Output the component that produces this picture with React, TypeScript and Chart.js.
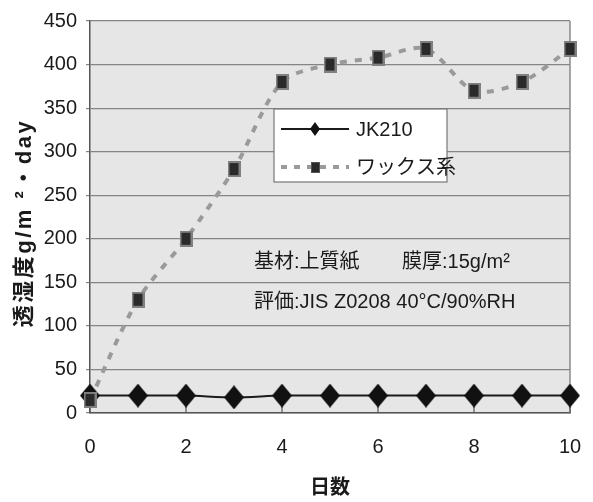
import { useEffect, useRef } from "react";
import { Chart, registerables } from "chart.js";

Chart.register(...registerables);

// ---- data ----
const days = [0, 1, 2, 3, 4, 5, 6, 7, 8, 9, 10];
const jk210 = [20, 20, 20, 18, 20, 20, 20, 20, 20, 20, 20];
const wax = [15, 130, 200, 280, 380, 400, 408, 418, 370, 380, 418];
const xTickValues = [0, 2, 4, 6, 8, 10];
const seriesNames = ["JK210", "ワックス系"];
const yTitle = "透湿度g/m ²・day";
const xTitle = "日数";
const noteSubstrate = "基材:上質紙";
const noteThickness = "膜厚:15g/m²";
const noteEval = "評価:JIS Z0208 40°C/90%RH";

const FONT = '"Liberation Sans", "Noto Sans CJK JP", Arial, sans-serif';
const TEXT = "#1a1a1a";

function makeDiamond(w: number, h: number, color: string) {
  const c = document.createElement("canvas");
  c.width = w;
  c.height = h;
  const g = c.getContext("2d")!;
  g.beginPath();
  g.moveTo(w / 2, 0);
  g.lineTo(w, h / 2);
  g.lineTo(w / 2, h);
  g.lineTo(0, h / 2);
  g.closePath();
  g.fillStyle = color;
  g.fill();
  return c;
}

function makeSquare(w: number, h: number, fill: string, border: string, bw: number) {
  const c = document.createElement("canvas");
  c.width = w;
  c.height = h;
  const g = c.getContext("2d")!;
  g.fillStyle = border;
  g.fillRect(0, 0, w, h);
  g.fillStyle = fill;
  g.fillRect(bw, bw, w - 2 * bw, h - 2 * bw);
  return c;
}

const decorPlugin = {
  id: "decor",
  beforeDraw(chart: any) {
    const { ctx, chartArea: a } = chart;
    ctx.save();
    ctx.fillStyle = "#e6e6e6";
    ctx.fillRect(a.left, a.top, a.right - a.left, a.bottom - a.top);
    ctx.restore();
  },
  beforeDatasetsDraw(chart: any) {
    const { ctx, chartArea: a, scales } = chart;
    ctx.save();
    // right border
    ctx.strokeStyle = "#8a8a8a";
    ctx.lineWidth = 1.5;
    ctx.beginPath();
    ctx.moveTo(a.right, a.top);
    ctx.lineTo(a.right, a.bottom);
    ctx.stroke();
    // inside tick marks on x axis
    ctx.strokeStyle = "#555";
    ctx.lineWidth = 1.2;
    for (const v of xTickValues) {
      const px = scales.x.getPixelForValue(v);
      ctx.beginPath();
      ctx.moveTo(px, a.bottom);
      ctx.lineTo(px, a.bottom - 15);
      ctx.stroke();
    }
    ctx.restore();
  },
  afterDraw(chart: any) {
    const { ctx, chartArea: a } = chart;
    const ds = chart.data.datasets;
    ctx.save();

    // y-axis title
    ctx.save();
    ctx.translate(25, (a.top + a.bottom) / 2 + 6);
    ctx.rotate(-Math.PI / 2);
    ctx.font = `bold 22px ${FONT}`;
    (ctx as any).letterSpacing = "2.5px";
    ctx.fillStyle = TEXT;
    ctx.textAlign = "center";
    ctx.textBaseline = "middle";
    ctx.fillText(yTitle, 0, 0);
    ctx.restore();

    // legend box
    const lx = a.left + 184;
    const ly = a.top + 88;
    const lw = 173;
    const lh = 73;
    ctx.fillStyle = "#ffffff";
    ctx.fillRect(lx, ly, lw, lh);
    ctx.strokeStyle = "#777";
    ctx.lineWidth = 1.2;
    ctx.strokeRect(lx, ly, lw, lh);

    const rows = [ly + 20, ly + 58];
    for (let i = 0; i < 2; i++) {
      const d = ds[i];
      const y = rows[i];
      const x0 = lx + 7;
      const x1 = lx + 75;
      ctx.save();
      ctx.strokeStyle = d.borderColor;
      ctx.lineWidth = i === 0 ? 2 : 4;
      ctx.setLineDash(i === 0 ? [] : [6, 7]);
      ctx.beginPath();
      ctx.moveTo(x0, y);
      ctx.lineTo(x1, y);
      ctx.stroke();
      ctx.restore();
      const mx = (x0 + x1) / 2;
      const img = d.legendMarker as HTMLCanvasElement;
      ctx.drawImage(img, Math.round(mx - img.width / 2), Math.round(y - img.height / 2));
      ctx.font = `20px ${FONT}`;
      ctx.fillStyle = TEXT;
      ctx.textAlign = "left";
      ctx.textBaseline = "middle";
      ctx.fillText(seriesNames[i], lx + 82, y + 1);
    }

    // notes
    ctx.font = `20px ${FONT}`;
    ctx.fillStyle = TEXT;
    ctx.textAlign = "left";
    ctx.textBaseline = "middle";
    ctx.fillText(noteSubstrate, a.left + 164, 262);
    ctx.fillText(noteThickness, a.left + 312, 262);
    ctx.fillText(noteEval, a.left + 164, 302);

    ctx.restore();
  },
};

export default function App() {
  const ref = useRef<HTMLCanvasElement | null>(null);

  useEffect(() => {
    if (!ref.current) return;
    const diamond = makeDiamond(20, 24, "#111111");
    const square = makeSquare(13, 16, "#2a2a2a", "#808080", 2);
    const diamondSmall = makeDiamond(10, 14, "#111111");
    const squareSmall = makeSquare(9, 11, "#2a2a2a", "#555", 1);

    const chart = new Chart(ref.current, {
      type: "line",
      data: {
        datasets: [
          {
            label: seriesNames[0],
            data: days.map((d, i) => ({ x: d, y: jk210[i] })),
            borderColor: "#1a1a1a",
            borderWidth: 2,
            pointStyle: diamond as any,
            pointRadius: 10,
            tension: 0.3,
            clip: false as any,
            order: 1,
            legendMarker: diamondSmall,
          } as any,
          {
            label: seriesNames[1],
            data: days.map((d, i) => ({ x: d, y: wax[i] })),
            borderColor: "#9a9a9a",
            borderWidth: 4,
            borderDash: [7, 8],
            pointStyle: square as any,
            pointRadius: 8,
            tension: 0.3,
            clip: false as any,
            order: 0,
            legendMarker: squareSmall,
          } as any,
        ],
      },
      options: {
        animation: false,
        responsive: false,
        layout: { padding: { left: 0, right: 23, top: 16, bottom: 0 } },
        plugins: {
          legend: { display: false },
          tooltip: { enabled: false },
        },
        scales: {
          x: {
            type: "linear",
            min: 0,
            max: 10,
            afterFit: (s: any) => {
              s.height = 89;
            },
            afterBuildTicks: (s: any) => {
              s.ticks = xTickValues.map((v) => ({ value: v }));
            },
            grid: { display: false, drawTicks: true, tickLength: 20 },
            border: { display: true, color: "#555", width: 1.5 },
            ticks: {
              padding: 2,
              color: TEXT,
              font: { family: FONT, size: 20 },
              maxRotation: 0,
            },
            title: {
              display: true,
              text: xTitle,
              color: TEXT,
              font: { family: FONT, size: 20, weight: "bold" },
              padding: { top: 0, bottom: 2 },
            },
          },
          y: {
            min: 0,
            max: 450,
            afterFit: (s: any) => {
              s.width = 90;
            },
            grid: {
              color: "#858585",
              lineWidth: 1.2,
              tickLength: 4,
              drawTicks: true,
            },
            border: { display: true, color: "#555", width: 1.5 },
            ticks: {
              stepSize: 50,
              padding: 9,
              color: TEXT,
              font: { family: FONT, size: 20 },
            },
          },
        },
      },
      plugins: [decorPlugin],
    } as any);
    return () => chart.destroy();
  }, []);

  return (
    <div style={{ position: "fixed", left: 0, top: 0, width: 593, height: 502, background: "#fff" }}>
      <canvas ref={ref} width={593} height={502} style={{ display: "block" }} />
    </div>
  );
}
